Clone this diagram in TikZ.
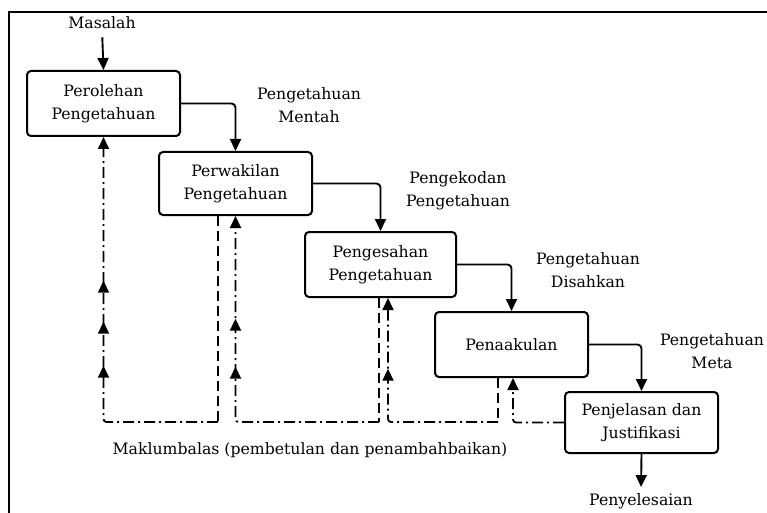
\documentclass[tikz,border=0pt]{standalone}
\usepackage{fontspec}
\setmainfont{DejaVu Serif}
\usetikzlibrary{arrows.meta,decorations.markings}
\tikzset{
  box/.style={draw, line width=2pt, rounded corners=4pt, minimum width=153pt, minimum height=64pt, align=center, inner sep=0pt, font=\fontsize{15.7}{23}\selectfont},
  tip/.style={-{Triangle[length=12pt,width=11pt]}},
  flow/.style={line width=1.9pt, rounded corners=4pt, tip},
  lbl/.style={align=center, inner sep=0pt, font=\fontsize{15.7}{23}\selectfont},
  fb/.style={line width=1.8pt, rounded corners=3pt, dash pattern=on 11pt off 4pt on 2pt off 4pt, tip},
  fbd/.style={line width=1.8pt, dash pattern=on 10pt off 5pt},
  midtips/.style={postaction={decorate}, decoration={markings, #1}},
}
\begin{document}
\begin{tikzpicture}[x=1pt,y=-1pt]
\useasboundingbox (0,0) rectangle (767,513);
% frame
\draw[line width=1.5pt] (9,513) -- (9,12) -- (767,12);
% boxes
\node[box, minimum height=65pt] (b1) at (103.5,103.5) {Perolehan\\Pengetahuan};
\node[box, minimum height=63pt] (b2) at (235.5,183.5) {Perwakilan\\Pengetahuan};
\node[box, minimum width=151pt, minimum height=65pt] (b3) at (380.5,264.5) {Pengesahan\\Pengetahuan};
\node[box, minimum height=65pt] (b4) at (511.5,344.5) {Penaakulan};
\node[box, minimum height=61pt] (b5) at (641.5,422.5) {Penjelasan dan\\Justifikasi};
% labels
\node[lbl] (m) at (102,23) {Masalah};
\node[lbl] (lmen) at (309,105) {Pengetahuan\\Mentah};
\node[lbl] (lkod) at (458,191) {Pengekodan\\Pengetahuan};
\node[lbl] (lsah) at (588,270) {Pengetahuan\\Disahkan};
\node[lbl] (lmeta) at (712,351) {Pengetahuan\\Meta};
\node[lbl] (lfb) at (310,450) {Maklumbalas (pembetulan dan penambahbaikan)};
\node[lbl] (p) at (641,501) {Penyelesaian};
% main flow
\draw[flow, shorten <=8pt] (m.south) -- (b1.north);
\draw[flow] (b1.east) -| (b2.north);
\draw[flow] (b2.east) -| (b3.north);
\draw[flow] (b3.east) -| (b4.north);
\draw[flow] (b4.east) -| (b5.north);
\draw[flow, shorten >=6pt] (b5.south) -- (p.north);
% feedback
\coordinate (fbline) at (0,422);
\coordinate (d2) at ([xshift=-17.5pt]b2.south);
\coordinate (d3) at ([xshift=-1.5pt]b3.south);
\coordinate (d4) at ([xshift=-13.5pt]b4.south);
\coordinate (u3) at ([xshift=7.5pt]b3.south);
\coordinate (u4) at ([xshift=1.5pt]b4.south);
\draw[fbd] (d2) -- (d2 |- fbline);
\draw[fbd] (d3) -- (d3 |- fbline);
\draw[fbd] (d4) -- (d4 |- fbline);
\draw[fb, midtips={mark=at position 169.5pt with {\arrow{Triangle[length=12pt,width=11pt]}},
                   mark=at position 213.5pt with {\arrow{Triangle[length=12pt,width=11pt]}},
                   mark=at position 254.5pt with {\arrow{Triangle[length=12pt,width=11pt]}}}]
  (d2 |- fbline) -| (b1.south);
\draw[fb, midtips={mark=at position 197.5pt with {\arrow{Triangle[length=12pt,width=11pt]}},
                   mark=at position 245.5pt with {\arrow{Triangle[length=12pt,width=11pt]}}}]
  (d3 |- fbline) -| (b2.south);
\draw[fb, midtips={mark=at position 162pt with {\arrow{Triangle[length=12pt,width=11pt]}}}]
  (d4 |- fbline) -| (u3);
\draw[fb] (b5.west) -| (u4);
\end{tikzpicture}
\end{document}
